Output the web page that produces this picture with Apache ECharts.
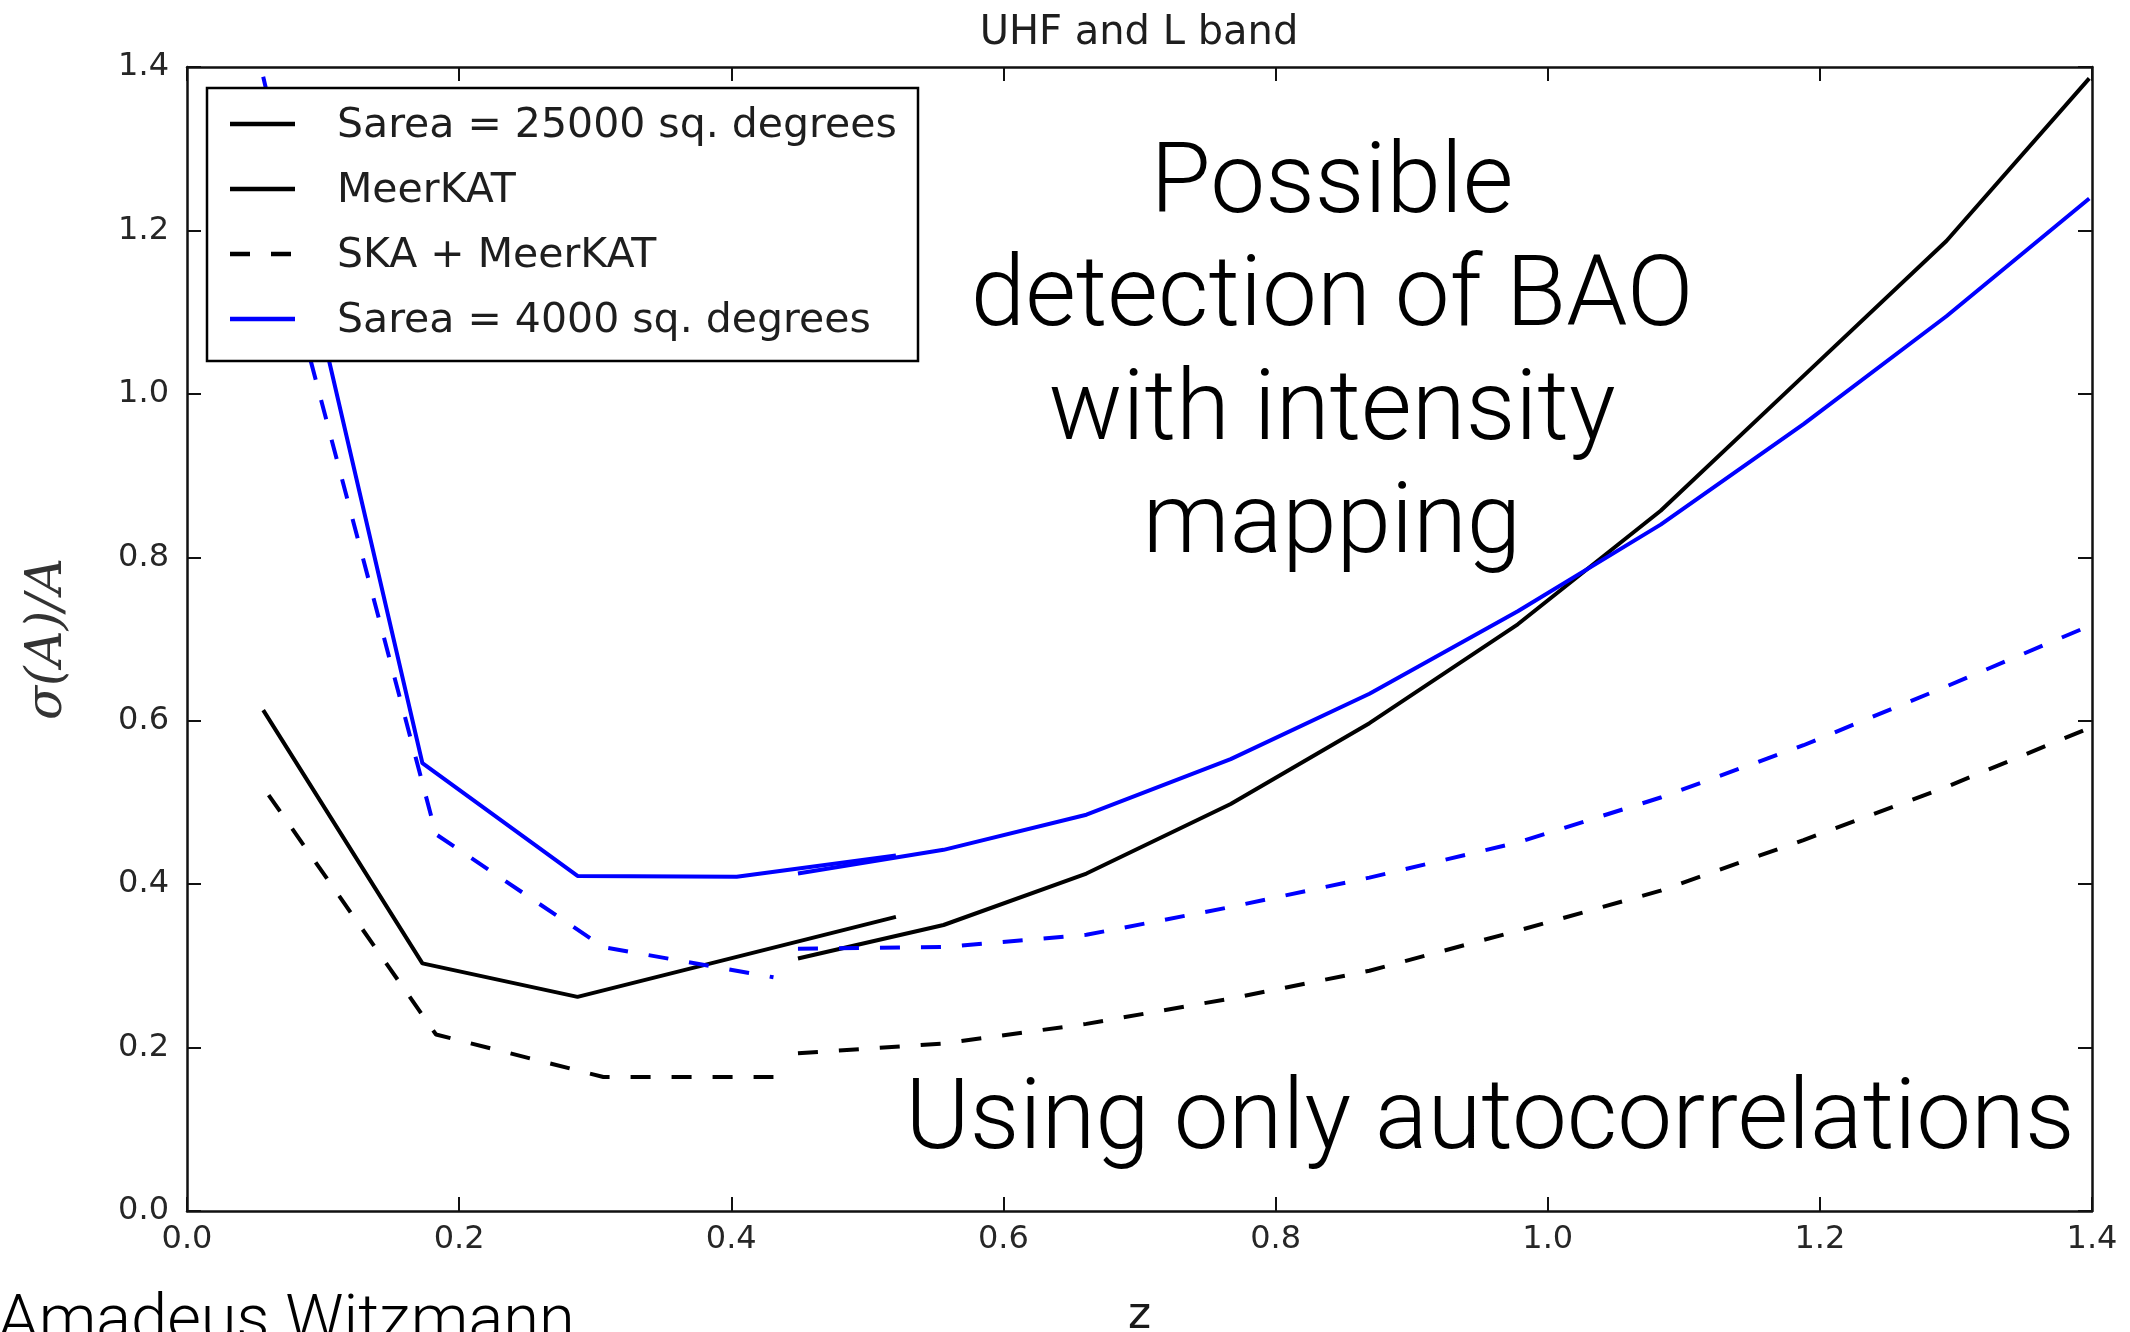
<!DOCTYPE html>
<html><head><meta charset="utf-8">
<script src="https://cdn.jsdelivr.net/npm/echarts@6/dist/echarts.min.js"></script>
<style>html,body{margin:0;padding:0;background:#fff;overflow:hidden}#c{width:2130px;height:1332px}</style>
</head><body><div id="c"></div>
<script>
// ---- data ----
const zUHFsolid = [0.056, 0.173, 0.287, 0.404, 0.521];
const zUHFdash  = [0.060, 0.183, 0.306, 0.431];
const zL        = [0.449, 0.556, 0.661, 0.767, 0.869, 0.978, 1.083, 1.188, 1.293, 1.398];

const meer25k_UHF = [0.613, 0.303, 0.262, 0.311, 0.360];
const meer4k_UHF  = [1.388, 0.548, 0.410, 0.409, 0.435];
const ska25k_UHF  = [0.509, 0.216, 0.164, 0.164];
const ska4k_UHF   = [1.235, 0.461, 0.323, 0.286];

const meer25k_L = [0.309, 0.350, 0.413, 0.498, 0.597, 0.718, 0.857, 1.022, 1.187, 1.386];
const meer4k_L  = [0.413, 0.442, 0.485, 0.553, 0.633, 0.734, 0.840, 0.963, 1.095, 1.239];
const ska25k_L  = [0.193, 0.205, 0.229, 0.260, 0.294, 0.343, 0.392, 0.454, 0.519, 0.591];
const ska4k_L   = [0.321, 0.323, 0.338, 0.372, 0.408, 0.451, 0.506, 0.570, 0.642, 0.716];

const legendLabels = ['Sarea = 25000 sq. degrees', 'MeerKAT', 'SKA + MeerKAT', 'Sarea = 4000 sq. degrees'];
const titleText = 'UHF and L band';
const xName = 'z';
const yName = 'σ(A)/A';
const notes = ['Possible', 'detection of BAO', 'with intensity', 'mapping'];
const note2 = 'Using only autocorrelations';
const author = 'Amadeus Witzmann';

// ---- styles ----
const BLACK = '#000000', BLUE = '#0000ff';
const DASH = [20, 21];
const LW = 4;
const tickFont = "'DejaVu Sans', sans-serif";
const lightFont = "Roboto, 'Helvetica Neue', 'Liberation Sans', sans-serif";

const pairs = (xs, ys) => xs.map((x, i) => [x, ys[i]]);
function lineSeries(name, xs, ys, color, dashed) {
  return {
    type: 'line', name, data: pairs(xs, ys), showSymbol: false, symbol: 'none',
    lineStyle: { color, width: LW, type: dashed ? DASH : 'solid' },
    itemStyle: { color }, silent: true, z: 2
  };
}

const series = [
  lineSeries('MeerKAT 25000 UHF', zUHFsolid, meer25k_UHF, BLACK, false),
  lineSeries('MeerKAT 4000 UHF', zUHFsolid, meer4k_UHF, BLUE, false),
  lineSeries('SKA 25000 UHF', zUHFdash, ska25k_UHF, BLACK, true),
  lineSeries('SKA 4000 UHF', zUHFdash, ska4k_UHF, BLUE, true),
  lineSeries('MeerKAT 25000 L', zL, meer25k_L, BLACK, false),
  lineSeries('MeerKAT 4000 L', zL, meer4k_L, BLUE, false),
  lineSeries('SKA 25000 L', zL, ska25k_L, BLACK, true),
  lineSeries('SKA 4000 L', zL, ska4k_L, BLUE, true)
];

const axisLineStyle = { color: '#111', width: 2.5 };
const tickStyle = { inside: true, length: 14, lineStyle: { color: '#111', width: 2 } };
const fmt = v => v.toFixed(1);

const grid = { left: 187, right: 38, top: 67, bottom: 121, containLabel: false, outerBoundsMode: 'none' };

// legend drawn as graphic
const legX = 207, legY = 88, legW = 711, legH = 273;
const rowY = [126, 191, 256, 321];
const legStyles = [
  { c: BLACK, d: null }, { c: BLACK, d: null }, { c: BLACK, d: DASH }, { c: BLUE, d: null }
];
const graphic = [
  { type: 'rect', z: 100, shape: { x: legX, y: legY, width: legW, height: legH },
    style: { fill: '#fff', stroke: '#000', lineWidth: 2.5 } }
];
legendLabels.forEach((lab, i) => {
  graphic.push({ type: 'line', z: 101, shape: { x1: 230, y1: rowY[i] - 2, x2: 295, y2: rowY[i] - 2 },
    style: { stroke: legStyles[i].c, lineWidth: 4.5, lineDash: legStyles[i].d } });
  graphic.push({ type: 'text', z: 101, x: 337, y: rowY[i],
    style: { text: lab, font: "41px 'DejaVu Sans'", fill: '#1e1e1e', verticalAlign: 'middle', align: 'left' } });
});
graphic.push({ type: 'text', z: 101, x: 1139, y: 34,
  style: { text: titleText, font: "40px 'DejaVu Sans'", fill: '#1e1e1e', align: 'center', verticalAlign: 'middle' } });
const noteY = [187, 300.5, 414, 527.5];
notes.forEach((t, i) => {
  graphic.push({ type: 'text', z: 50, x: 1332, y: noteY[i],
    style: { text: t, font: "300 98px " + lightFont, fill: '#000', align: 'center', verticalAlign: 'middle' } });
});
graphic.push({ type: 'text', z: 50, x: 1490, y: 1123,
  style: { text: note2, font: "300 98px " + lightFont, fill: '#000', align: 'center', verticalAlign: 'middle' } });
graphic.push({ type: 'text', z: 50, x: -2, y: 1324,
  style: { text: author, font: "300 65px " + lightFont, fill: '#000', align: 'left', verticalAlign: 'middle' } });

const option = {
  animation: false,
  backgroundColor: '#fff',
  grid,
  xAxis: [
    { type: 'value', min: 0, max: 1.4, interval: 0.2, position: 'bottom',
      name: xName, nameLocation: 'middle', nameGap: 84,
      nameTextStyle: { fontSize: 44, fontFamily: tickFont, color: '#1a1a1a' },
      axisLine: { show: true, onZero: false, lineStyle: axisLineStyle },
      axisTick: tickStyle, splitLine: { show: false },
      axisLabel: { formatter: fmt, fontSize: 32, fontFamily: tickFont, color: '#262626', margin: 13 } },
    { type: 'value', min: 0, max: 1.4, interval: 0.2, position: 'top',
      axisLine: { show: true, onZero: false, lineStyle: axisLineStyle },
      axisTick: tickStyle, splitLine: { show: false }, axisLabel: { show: false } }
  ],
  yAxis: [
    { type: 'value', min: 0, max: 1.4, interval: 0.2, position: 'left',
      name: yName, nameLocation: 'middle', nameGap: 114, nameRotate: 90,
      nameTextStyle: { fontSize: 50, fontFamily: "'DejaVu Serif', serif", fontStyle: 'italic', color: '#333' },
      axisLine: { show: true, onZero: false, lineStyle: axisLineStyle },
      axisTick: tickStyle, splitLine: { show: false },
      axisLabel: { formatter: fmt, fontSize: 32, fontFamily: tickFont, color: '#262626', margin: 18 } },
    { type: 'value', min: 0, max: 1.4, interval: 0.2, position: 'right',
      axisLine: { show: true, onZero: false, lineStyle: axisLineStyle },
      axisTick: tickStyle, splitLine: { show: false }, axisLabel: { show: false } }
  ],
  series,
  graphic
};

const chart = echarts.init(document.getElementById('c'), null, { renderer: 'canvas' });
chart.setOption(option);
</script>
</body></html>
